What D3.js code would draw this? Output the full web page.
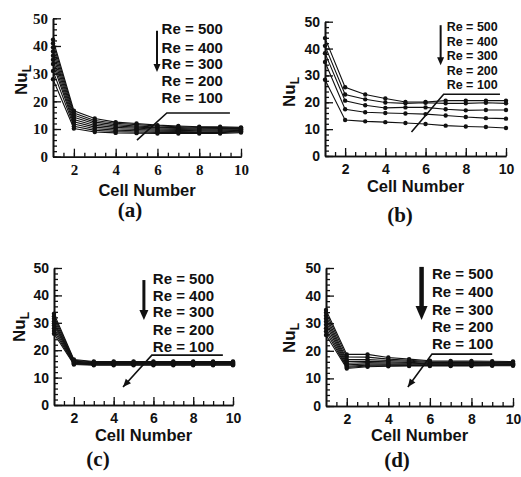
<!DOCTYPE html>
<html>
<head>
<meta charset="utf-8">
<script src="https://cdn.jsdelivr.net/npm/d3@7"></script>
<style>
  body { margin: 0; background: #fff; }
  svg { display: block; }
</style>
</head>
<body>
<svg id="fig" width="521" height="477"></svg>
<script>
// Local Nusselt number per cell, four configurations, Re = 100 ... 500
const cells = [1, 2, 3, 4, 5, 6, 7, 8, 9, 10];
const xTicks = [2, 4, 6, 8, 10];
const yTicks = [0, 10, 20, 30, 40, 50];
const legendLabels = ["Re = 500", "Re = 400", "Re = 300", "Re = 200", "Re = 100"];

const reFine = [100, 150, 200, 250, 300, 350, 400, 450, 500];
const reCoarse = [100, 200, 300, 400, 500];

// panel (a): one row per Reynolds number in reFine
const nuA = [
  [28.0, 10.2, 8.9, 8.6, 8.5, 8.4, 8.4, 8.4, 8.4, 8.7],
  [31.0, 11.0, 9.5, 9.1, 8.9, 8.8, 8.8, 8.7, 8.7, 9.0],
  [33.5, 11.8, 10.1, 9.6, 9.4, 9.2, 9.1, 9.0, 9.0, 9.2],
  [35.0, 12.6, 10.7, 10.1, 9.8, 9.6, 9.5, 9.4, 9.3, 9.5],
  [36.5, 13.4, 11.3, 10.6, 10.3, 10.0, 9.8, 9.7, 9.6, 9.7],
  [38.0, 14.2, 11.9, 11.1, 10.7, 10.4, 10.2, 10.0, 9.9, 9.9],
  [39.5, 15.0, 12.5, 11.6, 11.1, 10.7, 10.5, 10.3, 10.2, 10.2],
  [41.0, 15.8, 13.1, 12.1, 11.6, 11.1, 10.8, 10.6, 10.5, 10.4],
  [42.3, 16.6, 13.8, 12.5, 12.0, 11.4, 11.1, 10.8, 10.8, 10.6]
];

// panel (b): one row per Reynolds number in reCoarse
const nuB = [
  [28.4, 13.4, 12.9, 12.6, 12.3, 11.9, 11.3, 11.0, 10.8, 10.4],
  [35.0, 17.4, 16.3, 16.0, 15.8, 15.6, 15.1, 14.5, 14.1, 13.9],
  [38.3, 20.6, 18.9, 17.9, 18.1, 18.1, 17.4, 17.0, 17.1, 17.1],
  [41.0, 22.9, 21.1, 19.9, 19.6, 19.8, 19.6, 19.6, 19.8, 19.6],
  [43.9, 25.6, 22.9, 21.4, 20.1, 20.1, 20.6, 20.6, 20.6, 20.6]
];

// panel (c): one row per Reynolds number in reFine
const nuC = [
  [26.0, 14.8, 14.5, 14.5, 14.5, 14.5, 14.5, 14.5, 14.5, 14.5],
  [27.0, 15.0, 14.7, 14.7, 14.7, 14.7, 14.7, 14.7, 14.7, 14.7],
  [28.0, 15.2, 14.9, 14.9, 14.9, 14.9, 14.9, 14.9, 14.9, 14.9],
  [29.0, 15.4, 15.0, 15.0, 15.0, 15.0, 15.0, 15.0, 15.0, 15.0],
  [29.8, 15.6, 15.2, 15.2, 15.2, 15.2, 15.2, 15.2, 15.2, 15.2],
  [30.6, 15.8, 15.4, 15.4, 15.4, 15.4, 15.4, 15.4, 15.4, 15.4],
  [31.5, 16.0, 15.5, 15.5, 15.5, 15.5, 15.5, 15.5, 15.5, 15.5],
  [32.4, 16.3, 15.7, 15.7, 15.7, 15.7, 15.7, 15.7, 15.7, 15.7],
  [33.3, 16.6, 15.9, 15.9, 15.9, 15.9, 15.9, 15.9, 15.9, 15.9]
];

// panel (d): one row per Reynolds number in reFine
const nuD = [
  [25.7, 13.6, 14.2, 14.4, 14.5, 14.5, 14.5, 14.5, 14.6, 14.6],
  [27.0, 14.0, 14.5, 14.6, 14.7, 14.7, 14.7, 14.7, 14.8, 14.8],
  [28.2, 14.4, 14.8, 14.9, 14.9, 14.9, 14.9, 14.9, 14.9, 15.0],
  [29.4, 14.9, 15.2, 15.2, 15.2, 15.1, 15.1, 15.1, 15.1, 15.1],
  [30.5, 15.5, 15.7, 15.6, 15.5, 15.3, 15.3, 15.3, 15.3, 15.3],
  [31.6, 16.1, 16.2, 16.0, 15.8, 15.5, 15.5, 15.5, 15.5, 15.5],
  [32.7, 16.8, 16.8, 16.5, 16.2, 15.8, 15.7, 15.7, 15.7, 15.7],
  [33.8, 17.8, 17.7, 17.0, 16.6, 16.1, 16.0, 16.0, 15.9, 15.9],
  [34.8, 18.7, 18.7, 17.6, 17.0, 16.4, 16.3, 16.3, 16.2, 16.1]
];

const SANS = "Arial, 'Liberation Sans', Helvetica, sans-serif";
const SERIF = "'Times New Roman', 'Liberation Serif', Times, serif";

// Layout of the four panels (pixel ranges) and their legend placement (data units)
const panels = [
  { tag: "(a)", re: reFine, nu: nuA, xr: [53, 241], yr: [156.7, 18.3],
    tickFont: SERIF, tickSize: 15, titleY: 192, tagPos: [130, 212], nuPos: [21, 80],
    legend: { size: 15, textX: 6.2, rows: [45.7, 38.9, 33.1, 27.0, 20.8],
      arrowX: 5.98, arrowY: [45.5, 30.6], arrowW: 2, headW: 7, headL: 8,
      hLine: [6.45, 9.47, 15.8], pointEnd: [5.02, 6.0], pointHead: false } },
  { tag: "(b)", re: reCoarse, nu: nuB, xr: [325, 506], yr: [156, 21.7],
    tickFont: SANS, tickSize: 14, titleY: 188, tagPos: [400, 217], nuPos: [289, 92],
    legend: { size: 12.5, textX: 7.05, rows: [47.6, 42.0, 36.8, 31.2, 26.0],
      arrowX: 6.75, arrowY: [48.7, 33.8], arrowW: 2, headW: 7, headL: 8,
      hLine: [6.9, 9.7, 23.0], pointEnd: [5.3, 8.9], pointHead: false } },
  { tag: "(c)", re: reFine, nu: nuC, xr: [54, 233], yr: [405, 268],
    tickFont: SANS, tickSize: 14, titleY: 437, tagPos: [98, 461], nuPos: [19, 327],
    legend: { size: 15, textX: 5.97, rows: [45.6, 39.4, 33.6, 27.0, 20.8],
      arrowX: 5.52, arrowY: [45.6, 31.0], arrowW: 3, headW: 9, headL: 10,
      hLine: [5.92, 9.49, 18.2], pointEnd: [4.47, 6.6], pointHead: true } },
  { tag: "(d)", re: reFine, nu: nuD, xr: [326, 513], yr: [406, 268],
    tickFont: SANS, tickSize: 14, titleY: 437, tagPos: [397, 462], nuPos: [289, 338],
    legend: { size: 15, textX: 6.1, rows: [47.5, 40.9, 34.4, 28.3, 22.1],
      arrowX: 5.6, arrowY: [50.4, 31.2], arrowW: 4.5, headW: 12, headL: 14,
      hLine: [6.1, 9.0, 18.8], pointEnd: [4.94, 6.9], pointHead: true } }
];

const svg = d3.select("#fig");

function drawPanel(p) {
  const x = d3.scaleLinear().domain([1, 10]).range(p.xr);
  const y = d3.scaleLinear().domain([0, 50]).range(p.yr);
  const g = svg.append("g");

  // minor ticks (inward)
  g.append("g").attr("class", "minor")
    .attr("transform", `translate(0,${p.yr[0]})`)
    .call(d3.axisBottom(x).tickValues(d3.range(1.5, 10.01, 0.5)).tickSizeInner(-4).tickSizeOuter(0).tickFormat(""));
  g.append("g").attr("class", "minor")
    .attr("transform", `translate(${p.xr[0]},0)`)
    .call(d3.axisLeft(y).tickValues(d3.range(0, 50.01, 2)).tickSizeInner(-4).tickSizeOuter(0).tickFormat(""));

  // major ticks + labels
  const xa = g.append("g")
    .attr("transform", `translate(0,${p.yr[0]})`)
    .call(d3.axisBottom(x).tickValues(xTicks).tickSizeInner(-8).tickSizeOuter(0).tickPadding(8));
  const ya = g.append("g")
    .attr("transform", `translate(${p.xr[0]},0)`)
    .call(d3.axisLeft(y).tickValues(yTicks).tickSizeInner(-8).tickSizeOuter(0).tickPadding(5));

  g.selectAll(".domain").attr("stroke", "#111").attr("stroke-width", 1.6);
  g.selectAll(".tick line").attr("stroke", "#111").attr("stroke-width", 1.3);
  [xa, ya].forEach(a => a.selectAll("text")
    .attr("fill", "#111")
    .style("font-family", p.tickFont)
    .style("font-weight", "bold")
    .style("font-size", p.tickSize + "px"));

  // series
  const line = d3.line().x((d, i) => x(cells[i])).y(d => y(d));
  const series = g.append("g");
  p.nu.forEach((row, k) => {
    series.append("path").datum(row)
      .attr("d", line)
      .attr("fill", "none")
      .attr("stroke", "#111")
      .attr("stroke-width", 1.1);
    series.selectAll(null).data(row).enter().append("circle")
      .attr("cx", (d, i) => x(cells[i]))
      .attr("cy", d => y(d))
      .attr("r", 2.2)
      .attr("fill", "#111");
  });

  // axis titles
  g.append("text")
    .attr("x", (p.xr[0] + p.xr[1]) / 2).attr("y", p.titleY)
    .attr("text-anchor", "middle").attr("dominant-baseline", "middle")
    .style("font-family", SANS).style("font-weight", "bold").style("font-size", "16.5px")
    .attr("fill", "#111")
    .text("Cell Number");

  const nu = g.append("text")
    .attr("transform", `translate(${p.nuPos[0]},${p.nuPos[1]}) rotate(-90)`)
    .attr("text-anchor", "middle")
    .style("font-family", SANS).style("font-weight", "bold").style("font-size", "17px")
    .attr("fill", "#111");
  nu.append("tspan").attr("dy", "0.35em").text("Nu");
  nu.append("tspan").attr("dy", "0.3em").style("font-size", "12px").text("L");

  g.append("text")
    .attr("x", p.tagPos[0]).attr("y", p.tagPos[1])
    .attr("text-anchor", "middle").attr("dominant-baseline", "middle")
    .style("font-family", SERIF).style("font-weight", "bold").style("font-size", "21px")
    .attr("fill", "#111")
    .text(p.tag);

  // legend
  const L = p.legend;
  g.selectAll(null).data(legendLabels).enter().append("text")
    .attr("x", x(L.textX))
    .attr("y", (d, i) => y(L.rows[i]))
    .attr("dominant-baseline", "middle")
    .style("font-family", SANS).style("font-weight", "bold").style("font-size", L.size + "px")
    .attr("fill", "#111")
    .text(d => d);

  const ax = x(L.arrowX), ay0 = y(L.arrowY[0]), ay1 = y(L.arrowY[1]);
  g.append("line")
    .attr("x1", ax).attr("x2", ax).attr("y1", ay0).attr("y2", ay1 - L.headL + 1)
    .attr("stroke", "#111").attr("stroke-width", L.arrowW);
  g.append("path")
    .attr("d", `M${ax - L.headW / 2},${ay1 - L.headL}L${ax + L.headW / 2},${ay1 - L.headL}L${ax},${ay1}Z`)
    .attr("fill", "#111");

  const hx0 = x(L.hLine[0]), hx1 = x(L.hLine[1]), hy = y(L.hLine[2]);
  const px = x(L.pointEnd[0]), py = y(L.pointEnd[1]);
  g.append("path")
    .attr("d", `M${hx1},${hy}L${hx0},${hy}L${px},${py}`)
    .attr("fill", "none").attr("stroke", "#111").attr("stroke-width", 1.6);
  if (L.pointHead) {
    const ang = Math.atan2(py - hy, px - hx0);
    const len = 8, half = 3.5;
    const bx = px - len * Math.cos(ang), by = py - len * Math.sin(ang);
    const nx = -Math.sin(ang) * half, ny = Math.cos(ang) * half;
    g.append("path")
      .attr("d", `M${px},${py}L${bx + nx},${by + ny}L${bx - nx},${by - ny}Z`)
      .attr("fill", "#111");
  }
}

panels.forEach(drawPanel);
</script>
</body>
</html>
